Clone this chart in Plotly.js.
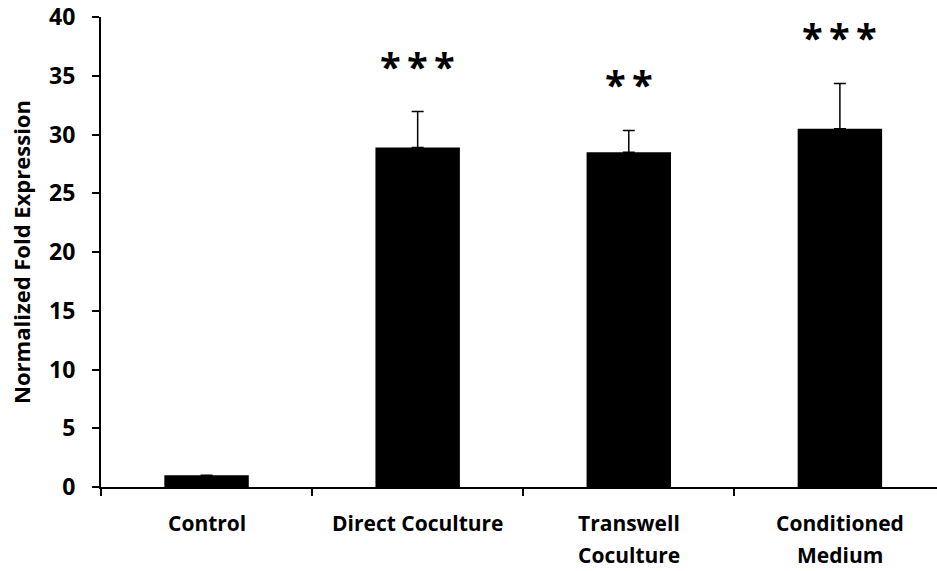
<!DOCTYPE html>
<html>
<head>
<meta charset="utf-8">
<script src="https://cdn.plot.ly/plotly-3.0.1.min.js"></script>
<style>html,body{margin:0;padding:0;background:#fff;}#chart{width:937px;height:571px;}</style>
</head>
<body>
<div id="chart"></div>
<script>
const categories = ["Control", "Direct Coculture", "Transwell Coculture", "Conditioned Medium"];
const labelLines = [["Control"], ["Direct Coculture"], ["Transwell", "Coculture"], ["Conditioned", "Medium"]];
const values = [1.0, 28.9, 28.5, 30.5];
const errors = [0, 3.05, 1.85, 3.85];
const sigLabels = ["", "***", "**", "***"];

const FONT = "Open Sans, DejaVu Sans, sans-serif";

const trace = {
  type: "bar",
  x: categories,
  y: values,
  width: 0.4,
  marker: {color: "#000000", line: {width: 0}},
  error_y: {type: "data", symmetric: false, array: errors, arrayminus: errors.map(() => 0),
            color: "#000000", thickness: 1.5, width: 6, visible: true},
  hoverinfo: "skip"
};

const annotations = [];
categories.forEach((c, i) => {
  if (sigLabels[i]) {
    annotations.push({
      x: c, xref: "x", y: values[i] + errors[i], yref: "y",
      yshift: 46, text: sigLabels[i].split("").join("\u2009"), showarrow: false,
      yanchor: "middle", xanchor: "center",
      font: {family: FONT, size: 38, color: "#000", weight: "bold"}
    });
  }
  labelLines[i].forEach((line, k) => {
    annotations.push({
      x: c, xref: "x", y: 0, yref: "paper",
      yshift: -36 - 32 * k, text: line, showarrow: false,
      yanchor: "middle", xanchor: "center",
      font: {family: FONT, size: 21, color: "#000", weight: "bold"}
    });
  });
});

const layout = {
  width: 937, height: 571,
  margin: {l: 101, r: 0, t: 17, b: 84, pad: 0},
  paper_bgcolor: "#fff", plot_bgcolor: "#fff",
  showlegend: false,
  font: {family: FONT, color: "#000"},
  xaxis: {
    type: "category", range: [-0.5, 3.46],
    showline: true, linecolor: "#000", linewidth: 2,
    ticks: "outside", tickson: "boundaries", ticklen: 7, tickwidth: 2, tickcolor: "#000",
    showgrid: false, zeroline: false, fixedrange: true,
    showticklabels: false
  },
  yaxis: {
    range: [0, 40], dtick: 5, tick0: 0,
    showline: true, linecolor: "#000", linewidth: 2,
    ticks: "outside", ticklen: 7, tickwidth: 2, tickcolor: "#000",
    showgrid: false, zeroline: false, fixedrange: true,
    tickfont: {family: FONT, size: 23, color: "#000", weight: "bold"},
    ticklabelstandoff: 12, ticklabeloverflow: "allow",
    title: {text: "Normalized Fold Expression", standoff: 12,
            font: {family: FONT, size: 22, color: "#000", weight: "bold"}}
  },
  annotations: annotations
};

Plotly.newPlot("chart", [trace], layout, {displayModeBar: false, staticPlot: true});
</script>
</body>
</html>
